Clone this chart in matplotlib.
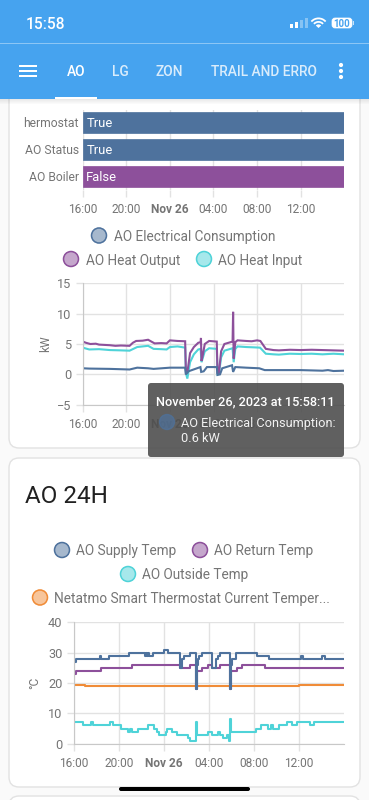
import matplotlib
matplotlib.use('Agg')
import matplotlib.pyplot as plt
from matplotlib.patches import FancyBboxPatch, Rectangle, Circle, Wedge

plt.rcParams['font.family'] = ['Roboto', 'DejaVu Sans']

W, H = 369, 800

# tick labels shared by the three charts
tick_hours = [0, 4, 8, 12, 16, 20]
tick_labels = ['16:00', '20:00', 'Nov 26', '04:00', '08:00', '12:00']

# timeline
state_names = ['hermostat', 'AO Status', 'AO Boiler']
state_values = ['True', 'True', 'False']

# energy chart, hours since 16:00, kW
elec_h = [0, 0.6, 2.5, 4.3, 5, 6, 6.5, 8, 9.4, 9.47, 9.7, 10.8, 10.87, 11.1, 11.4, 12.3, 12.37, 12.6, 12.8,
          13.7, 13.8, 14, 15, 16.2, 16.7, 20, 22, 22.5, 23, 24]
elec_kw = [1.0, 0.95, 0.9, 0.8, 1.1, 1.0, 0.9, 1.1, 1.1, 0.0, 0.5, 1.2, 0.4, 0.5, 1.2, 1.2, -0.1, 0.0, 1.0,
           1.5, 0.4, 1.2, 1.1, 1.0, 0.7, 0.7, 0.6, 0.7, 0.55, 0.6]
output_h = [0, 0.3, 0.7, 1.2, 1.5, 2, 2.5, 3, 3.5, 4.3, 4.6, 4.9, 5.5, 6, 6.2, 6.6, 7.2, 7.7, 8, 8.7, 9.4, 9.47, 9.6,
            9.85, 10.2, 10.6, 10.82, 10.85, 10.9, 11.0, 11.2, 11.6, 12.3, 12.37, 12.5, 12.7, 13, 13.75, 13.8, 13.85,
            14.0, 14.2, 15, 15.5, 16.0, 16.3, 16.8, 17.5, 18, 19, 20, 21, 22, 23, 24]
output_kw = [5.4, 5.2, 5.0, 5.05, 4.9, 4.85, 4.8, 4.7, 4.75, 4.7, 5.2, 5.5, 5.55, 5.7, 5.5, 5.1, 5.15, 5.1, 5.6, 5.5,
             5.45, 0.2, 0.3, 3.5, 4.5, 5.2, 5.3, 6.0, 2.2, 3.0, 5.0, 5.5, 5.4, 0.1, 0.3, 3.8, 5.0, 5.4, 10.3, 2.6,
             5.3, 5.6, 5.5, 5.45, 5.6, 5.5, 4.2, 4.0, 3.95, 4.05, 4.0, 4.05, 4.0, 3.95, 3.9]
input_h = [0, 0.6, 1.5, 2.5, 3.5, 4.3, 5, 6, 6.5, 7.2, 7.7, 8, 8.7, 9.4, 9.47, 9.6, 9.85, 10.2, 10.6, 10.82, 10.9,
           11.2, 11.6, 12.3, 12.37, 12.5, 12.7, 13, 13.75, 13.85, 14.0, 14.2, 15, 15.7, 16.27, 16.8, 17.5, 18, 19,
           20, 21, 22, 23, 24]
input_kw = [4.4, 4.1, 4.15, 4.0, 3.95, 3.9, 4.5, 4.7, 4.2, 4.15, 4.1, 4.5, 4.6, 4.4, 0.2, -0.7, 2.0, 3.3, 4.1, 4.2, 2.0,
            3.8, 4.3, 4.2, 0.0, 0.1, 2.8, 3.9, 4.3, 2.0, 4.2, 4.6, 4.5, 4.45, 4.4, 3.4, 3.3, 3.25, 3.4,
            3.35, 3.4, 3.3, 3.4, 3.3]

# temperature chart, hours since 16:00, degrees C (stepped)
supply_h = [0, 0.2, 2.3, 2.4, 3.1, 3.4, 4.9, 6.3, 6.4, 6.5, 6.6, 6.7, 7.0, 8.0, 8.4, 9.4, 9.6, 9.8, 10.3, 10.85,
            10.92, 11.0, 11.15, 11.35, 12.3, 12.6, 12.8, 13.0, 13.85, 13.92, 14.05, 14.4, 16.3, 17.3, 17.7, 20.2, 20.3,
            22.0, 22.3, 24]
supply_c = [27, 28, 29, 28, 29, 29, 30, 29, 30, 29, 30, 29, 30, 31, 30, 25, 28, 29, 30, 18,
            26, 28, 29, 30, 25, 28, 29, 30, 18, 26, 28, 30, 29, 28, 28, 29, 28,
            29, 28, 28]
return_h = [0, 0.2, 2.4, 5.2, 9.4, 10.3, 10.85, 10.92, 11.4, 11.9, 12.3, 13.0, 13.85, 13.92, 14.5, 14.9, 17.0, 24]
return_c = [23, 24, 25, 26, 25, 26, 18, 24, 25, 26, 25, 26, 18, 24, 25, 26, 25, 25]
outside_h = [0, 0.8, 1.5, 1.7, 3.2, 3.5, 4.2, 4.8, 5.0, 5.2, 5.4, 5.7, 6.5, 6.6, 7.1, 7.4, 7.6, 8.2, 8.3, 8.7, 9.2,
             10.1, 10.3, 10.85, 10.92, 11.9, 12.3, 12.8, 13.0, 13.2, 13.6, 13.8, 13.87, 13.95, 16.2, 16.6, 17.2, 17.5,
             17.7, 18.2, 18.9, 19.4, 19.8, 21.0, 21.3, 24]
outside_c = [7, 6, 7, 6, 7, 6, 5, 4, 5, 4, 4, 5, 5, 6, 5, 4, 3, 4, 5, 4, 3,
             2, 1, 7, 3, 4, 3, 4, 3, 2, 3, 1, 8, 4, 5, 6, 5, 6,
             5, 6, 7, 6, 7, 6, 7, 7]
netatmo_h = [0, 1, 3, 5, 7, 12, 18, 20, 21, 24]
netatmo_c = [19.5, 19.1, 19.0, 18.9, 19.0, 19.1, 19.1, 19.3, 19.4, 19.5]

BLUE = '#4E729D'
PURPLE = '#8D509B'
TEAL = '#4FD3D8'
ORANGE = '#F08C38'
HEADER = '#46A3EF'
TEXT = '#757575'
GRID = '#E2E2E2'


def px_axes(fig, left, top, right, bottom, **kw):
    return fig.add_axes([left / W, 1 - bottom / H, (right - left) / W, (bottom - top) / H], **kw)


def style_axes(ax, yticks=None):
    ax.set_xlim(0, 24)
    ax.set_xticks(tick_hours)
    ax.set_xticklabels(tick_labels, fontsize=8.6, color=TEXT)
    ax.get_xticklabels()[2].set_fontweight('bold')
    ax.grid(True, color=GRID, lw=1)
    ax.set_axisbelow(True)
    ax.tick_params(axis='both', length=5, width=1, color=GRID, pad=4.5)
    for s in ax.spines.values():
        s.set_visible(False)
    if yticks is not None:
        ax.set_yticks(yticks)
        ax.tick_params(axis='y', labelsize=9.2, labelcolor=TEXT, pad=3)
        ax.spines['left'].set_visible(True)
        ax.spines['left'].set_color('#C8C8C8')
        ax.spines['bottom'].set_visible(True)
        ax.spines['bottom'].set_color('#C8C8C8')


def legend_item(ax, x, y, color, label):
    ax.add_patch(Circle((x, y), 7.5, fc=color, ec=color, lw=1, alpha=0.5))
    ax.add_patch(Circle((x, y), 7.5, fc='none', ec=color, lw=1))
    ax.text(x + 14.5, y, label, fontsize=9.85, color=TEXT, va='center_baseline', ha='left')


fig = plt.figure(figsize=(W / 100, H / 100), dpi=100, facecolor='#FAFAFA')

# page background and cards
bg = px_axes(fig, 0, 0, W, H, zorder=0)
bg.set_xlim(0, W)
bg.set_ylim(H, 0)
bg.axis('off')
for top, bottom in [(60, 448), (458, 787), (796, 860)]:
    bg.add_patch(FancyBboxPatch((9, top), 351, bottom - top, boxstyle='round,pad=0,rounding_size=10',
                                fc='white', ec='#E2E2E2', lw=1))
bg.text(25, 494, 'AO 24H', fontsize=17.5, color='#212121', va='center_baseline')
legend_item(bg, 99, 235.5, BLUE, 'AO Electrical Consumption')
legend_item(bg, 71, 259, PURPLE, 'AO Heat Output')
legend_item(bg, 204, 259, TEAL, 'AO Heat Input')
legend_item(bg, 62, 550, BLUE, 'AO Supply Temp')
legend_item(bg, 200, 550, PURPLE, 'AO Return Temp')
legend_item(bg, 128, 574, TEAL, 'AO Outside Temp')
legend_item(bg, 40, 597.5, ORANGE, 'Netatmo Smart Thermostat Current Temper...')

# state timeline
ax0 = px_axes(fig, 82.5, 110, 344.5, 190, zorder=1)
ax0.patch.set_alpha(0)
style_axes(ax0)
ax0.set_ylim(2.5, -0.45)
ax0.set_yticks([])
ax0.tick_params(axis='y', length=0)
for i, (name, val) in enumerate(zip(state_names, state_values)):
    col = BLUE if val == 'True' else PURPLE
    ax0.barh(i, 24, height=0.76, color=col, edgecolor=col, lw=0.5, zorder=2)
    ax0.text(0.35, i, val, color='white', fontsize=9.4, va='center_baseline', zorder=3)
    ax0.annotate(name, (0, i), xytext=(-2.6, 0), textcoords='offset points', ha='right',
                 va='center_baseline', fontsize=8.75, color=TEXT)

# energy chart
ax1 = px_axes(fig, 82.7, 283.3, 344.3, 404.7, zorder=1)
ax1.patch.set_alpha(0)
style_axes(ax1, [-5, 0, 5, 10, 15])
ax1.set_ylim(-5, 15)
ax1.plot(input_h, input_kw, color=TEAL, lw=1.5, solid_joinstyle='miter')
ax1.plot(output_h, output_kw, color=PURPLE, lw=1.5, solid_joinstyle='miter')
ax1.plot(elec_h, elec_kw, color=BLUE, lw=1.5, solid_joinstyle='miter')
ax1.set_ylabel('kW', fontsize=8.6, color=TEXT, labelpad=4)

# temperature chart
ax2 = px_axes(fig, 73.7, 622.3, 344.3, 743.7, zorder=1)
ax2.patch.set_alpha(0)
style_axes(ax2, [0, 10, 20, 30, 40])
ax2.set_ylim(0, 40)
ax2.step(netatmo_h, netatmo_c, where='post', color=ORANGE, lw=1.5)
ax2.step(outside_h, outside_c, where='post', color=TEAL, lw=1.5)
ax2.step(return_h, return_c, where='post', color=PURPLE, lw=1.5)
ax2.step(supply_h, supply_c, where='post', color=BLUE, lw=1.5)
ax2.set_ylabel('°C', fontsize=8.6, color=TEXT, labelpad=5)

# header, tooltip and other things drawn over the charts
top = px_axes(fig, 0, 0, W, H, zorder=5)
top.set_xlim(0, W)
top.set_ylim(H, 0)
top.axis('off')
for i in range(6):
    top.add_patch(Rectangle((0, 98 + i), W, 1, fc='black', ec='none', alpha=0.10 - i * 0.016))
top.add_patch(Rectangle((0, 0), W, 99, fc=HEADER, ec='none'))
top.add_patch(Rectangle((0, 43), W, 0.8, fc='#8CC6F5', ec='none'))
top.text(26, 23, '15:58', color='white', fontsize=11.2, fontweight='medium', va='center_baseline')

# signal bars
for bx, bh, a in [(290, 3.5, 1), (295, 5.5, 1), (300, 8, 0.35), (305, 10, 0.35)]:
    top.add_patch(Rectangle((bx, 27.5 - bh), 3, bh, fc='white', ec='none', alpha=a))
# wifi
for r, w in [(10.5, 1.8), (7, 1.8), (3.6, 3.6)]:
    top.add_patch(Wedge((318.5, 28), r, 222, 318, width=w, fc='white', ec='none'))
# battery
top.add_patch(FancyBboxPatch((332, 18), 20, 10, boxstyle='round,pad=0,rounding_size=3', fc='white', ec='white', lw=0.5))
top.add_patch(Rectangle((353.2, 21), 1.2, 4, fc='white', ec='none', alpha=0.7))
top.text(342, 23, '100', color=HEADER, fontsize=7, fontweight='bold', ha='center', va='center_baseline')

# toolbar
for y in [66, 71, 76]:
    top.add_patch(Rectangle((18.5, y - 0.8), 18, 1.6, fc='white', ec='none'))
for y in [65, 71, 77]:
    top.add_patch(Circle((341, y), 2.1, fc='white', ec='none'))
for x, label, a in [(76, 'AO', 1), (120.5, 'LG', 0.8), (169.5, 'ZON', 0.8), (264, 'TRAIL AND ERRO', 0.8)]:
    top.text(x, 71, label, color='white', alpha=a, fontsize=9.9, fontweight='medium', ha='center', va='center_baseline')
top.add_patch(Rectangle((55, 96.5), 42, 2.5, fc='white', ec='none'))

# tooltip
top.add_patch(FancyBboxPatch((148, 383), 196, 74, boxstyle='round,pad=0,rounding_size=3',
                             fc='#4F4F4F', ec='none', alpha=0.9))
top.text(245.5, 400, 'November 26, 2023 at 15:58:11', color='white', fontsize=9.15, fontweight='medium',
         ha='center', va='center_baseline')
top.add_patch(Circle((167, 422), 7.5, fc=BLUE, ec=BLUE, alpha=0.7))
top.text(181, 422, 'AO Electrical Consumption:', color='white', alpha=0.92, fontsize=9.2, va='center_baseline')
top.text(181, 437, '0.6 kW', color='white', alpha=0.92, fontsize=9.2, va='center_baseline')

# home indicator
top.add_patch(FancyBboxPatch((119, 787), 131, 4, boxstyle='round,pad=0,rounding_size=2', fc='black', ec='none'))

fig.savefig('out.png', dpi=100, facecolor=fig.get_facecolor())
